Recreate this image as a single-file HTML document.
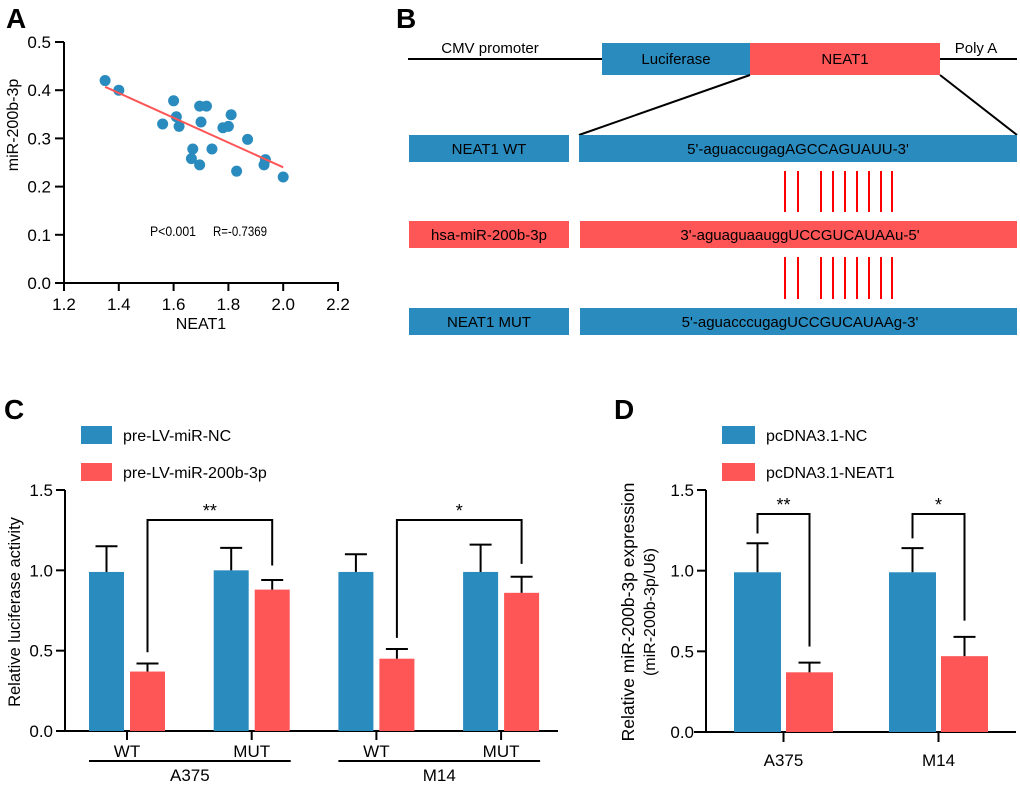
<!DOCTYPE html>
<html><head><meta charset="utf-8"><style>
html,body{margin:0;padding:0;background:#fff;}
svg{display:block;font-family:"Liberation Sans",sans-serif;}
</style></head><body>
<svg id="fig" width="1020" height="786" viewBox="0 0 1020 786" xmlns="http://www.w3.org/2000/svg">
<text x="6" y="28" font-size="28" font-weight="bold">A</text>
<text x="396" y="28" font-size="28" font-weight="bold">B</text>
<text x="4" y="419" font-size="28" font-weight="bold">C</text>
<text x="614" y="419" font-size="28" font-weight="bold">D</text>

<g id="panelB">
<line x1="408" y1="59" x2="1017" y2="59" stroke="#000" stroke-width="2"/>
<text x="490" y="53" font-size="15" text-anchor="middle">CMV promoter</text>
<text x="976" y="53" font-size="15" text-anchor="middle">Poly A</text>
<rect x="602" y="43" width="148" height="32" fill="#2a8bbf"/>
<text x="676" y="64" font-size="15" text-anchor="middle">Luciferase</text>
<rect x="750" y="43" width="190" height="32" fill="#fe5556"/>
<text x="845" y="64" font-size="15" text-anchor="middle">NEAT1</text>
<line x1="750" y1="75" x2="579" y2="135" stroke="#000" stroke-width="2"/>
<line x1="940" y1="75" x2="1017" y2="135" stroke="#000" stroke-width="2"/>
<rect x="409" y="135" width="160" height="27" fill="#2a8bbf"/>
<text x="489" y="154" font-size="15" text-anchor="middle">NEAT1 WT</text>
<rect x="579" y="135" width="438" height="27" fill="#2a8bbf"/>
<text x="798" y="154" font-size="15" text-anchor="middle">5'-aguaccugagAGCCAGUAUU-3'</text>
<rect x="409" y="221" width="160" height="27" fill="#fe5556"/>
<text x="489" y="240" font-size="15" text-anchor="middle">hsa-miR-200b-3p</text>
<rect x="580" y="221" width="437" height="27" fill="#fe5556"/>
<text x="800" y="240" font-size="15" text-anchor="middle">3'-aguaguaauggUCCGUCAUAAu-5'</text>
<rect x="409" y="308" width="160" height="27" fill="#2a8bbf"/>
<text x="489" y="327" font-size="15" text-anchor="middle">NEAT1 MUT</text>
<rect x="580" y="308" width="437" height="27" fill="#2a8bbf"/>
<text x="800" y="327" font-size="15" text-anchor="middle">5'-aguacccugagUCCGUCAUAAg-3'</text>
<g id="pairs" stroke="#f00" stroke-width="2"></g>
</g>

<g id="panelA"></g>
<g id="panelC"></g>
<g id="panelD"></g>
</svg>
<script>
const neat1Values = [1.35,1.40,1.60,1.61,1.56,1.62,1.695,1.72,1.70,1.81,1.78,1.80,1.87,1.67,1.74,1.665,1.695,1.83,1.93,1.935,2.00];
const mirValues   = [0.42,0.40,0.378,0.345,0.33,0.325,0.367,0.367,0.334,0.349,0.322,0.325,0.298,0.278,0.278,0.258,0.245,0.232,0.245,0.256,0.22];
const fitLineX = [1.35,2.00];
const fitLineY = [0.407,0.240];
const aXTicks = [1.2,1.4,1.6,1.8,2.0,2.2];
const aYTicks = [0.0,0.1,0.2,0.3,0.4,0.5];

const cCategories = ['WT','MUT','WT','MUT'];
const cGroups = ['A375','M14'];
const cNcMeans = [0.99,1.00,0.99,0.99];
const cNcErr   = [0.16,0.14,0.11,0.17];
const cMirMeans = [0.37,0.88,0.45,0.86];
const cMirErr   = [0.05,0.06,0.06,0.10];
const cTicks = [0.0,0.5,1.0,1.5];

const dCategories = ['A375','M14'];
const dNcMeans = [0.99,0.99];
const dNcErr = [0.18,0.15];
const dNeatMeans = [0.37,0.47];
const dNeatErr = [0.06,0.12];
const dTicks = [0.0,0.5,1.0,1.5];

const BLUE='#2a8bbf', RED='#fe5556';
const NS='http://www.w3.org/2000/svg';
function mk(parent, tag, attrs, text){
  const e=document.createElementNS(NS,tag);
  for(const k in attrs) e.setAttribute(k,attrs[k]);
  if(text!==undefined) e.textContent=text;
  parent.appendChild(e); return e;
}

const pairXs=[785,798,821,833,845,857,869,881,892];
const pg=document.getElementById('pairs');
[[171,212],[257,299]].forEach(r=>pairXs.forEach(x=>{
  const l=mk(pg,'line',{x1:x,y1:r[0],x2:x,y2:r[1]});
  
  
}));

(function(){
  const g=document.getElementById('panelA');
  const x0=64,x1=338,y0=283,y1=42;
  const sx=v=>x0+(v-1.2)/(2.2-1.2)*(x1-x0);
  const sy=v=>y0-(v-0)/(0.5)*(y0-y1);
  let e=mk(g,'line',{x1:x0,y1:y0,x2:x1+1,y2:y0,stroke:'#000','stroke-width':2});
   
  e=mk(g,'line',{x1:x0,y1:y0+1,x2:x0,y2:y1,stroke:'#000','stroke-width':2});
   
  aXTicks.forEach(t=>{
    mk(g,'line',{x1:sx(t),y1:y0,x2:sx(t),y2:y0+8,stroke:'#000','stroke-width':2});
    e=mk(g,'text',{x:sx(t),y:y0+27,'font-size':17,'text-anchor':'middle'},t.toFixed(1));
     
  });
  aYTicks.forEach(t=>{
    mk(g,'line',{x1:x0-9,y1:sy(t),x2:x0,y2:sy(t),stroke:'#000','stroke-width':2});
    e=mk(g,'text',{x:x0-13,y:sy(t)+6,'font-size':17,'text-anchor':'end'},t.toFixed(1));
     
  });
  e=mk(g,'text',{x:201,y:329,'font-size':16,'text-anchor':'middle'},'NEAT1');
   
  e=mk(g,'text',{x:18,y:125,'font-size':16,'text-anchor':'middle',transform:'rotate(-90 18 125)'},'miR-200b-3p');
   
  neat1Values.forEach((v,i)=>{
    e=mk(g,'circle',{cx:sx(v),cy:sy(mirValues[i]),r:5.5,fill:BLUE});
     
  });
  e=mk(g,'line',{x1:sx(fitLineX[0]),y1:sy(fitLineY[0]),x2:sx(fitLineX[1]),y2:sy(fitLineY[1]),stroke:RED,'stroke-width':2});
   
  e=mk(g,'text',{x:150,y:236,'font-size':14,textLength:46,lengthAdjust:'spacingAndGlyphs'},'P<0.001');
   
  e=mk(g,'text',{x:213,y:236,'font-size':14,textLength:54,lengthAdjust:'spacingAndGlyphs'},'R=-0.7369');
   
})();

function legend(g,x,y,labels,rw){
  [BLUE,RED].forEach((c,i)=>{
    let e=mk(g,'rect',{x:x,y:y+i*37,width:rw,height:18,fill:c});
     
    e=mk(g,'text',{x:x+rw+11,y:y+i*37+15,'font-size':16},labels[i]);
     
  });
}
function bar(g,x,w,sy,mean,err,color,name){
  let e=mk(g,'rect',{x:x,y:sy(mean),width:w,height:sy(0)-sy(mean),fill:color});
   
  const cx=x+w/2;
  mk(g,'line',{x1:cx,y1:sy(mean),x2:cx,y2:sy(mean+err),stroke:'#000','stroke-width':2});
  mk(g,'line',{x1:cx-11,y1:sy(mean+err),x2:cx+11,y2:sy(mean+err),stroke:'#000','stroke-width':2});
}
function bracket(g,xl,yl,xr,yr,ytop,label){
  mk(g,'polyline',{points:`${xl},${yl} ${xl},${ytop} ${xr},${ytop} ${xr},${yr}`,fill:'none',stroke:'#000','stroke-width':2});
  const e=mk(g,'text',{x:(xl+xr)/2,y:ytop-3,'font-size':18,'text-anchor':'middle'},label);
   
}

(function(){
  const g=document.getElementById('panelC');
  const y0=731,y1=490,ax=65;
  const sy=v=>y0-v/1.5*(y0-y1);
  legend(g,81,426,['pre-LV-miR-NC','pre-LV-miR-200b-3p'],31);
  let e=mk(g,'line',{x1:ax,y1:y0+1,x2:ax,y2:y1,stroke:'#000','stroke-width':2});
   
  e=mk(g,'line',{x1:56,y1:y0,x2:558,y2:y0,stroke:'#000','stroke-width':2});
   
  cTicks.forEach(t=>{
    mk(g,'line',{x1:ax-9,y1:sy(t),x2:ax,y2:sy(t),stroke:'#000','stroke-width':2});
    e=mk(g,'text',{x:ax-12,y:sy(t)+6,'font-size':17,'text-anchor':'end'},t.toFixed(1));
     
  });
  e=mk(g,'text',{x:20,y:612,'font-size':16.5,'text-anchor':'middle',transform:'rotate(-90 20 612)'},'Relative luciferase activity');
   
  const bw=35, start=89, step=124.7;
  cCategories.forEach((c,i)=>{
    const bx=start+i*step;
    bar(g,bx,bw,sy,cNcMeans[i],cNcErr[i],BLUE,'bar-nc');
    bar(g,bx+41,bw,sy,cMirMeans[i],cMirErr[i],RED,'bar-mir');
    const cx=bx+38;
    mk(g,'line',{x1:cx,y1:y0,x2:cx,y2:y0+9,stroke:'#000','stroke-width':2});
    e=mk(g,'text',{x:cx,y:y0+26,'font-size':17,'text-anchor':'middle'},c);
     
  });
  cGroups.forEach((gn,j)=>{
    const xa=start+2*j*step, xb=start+(2*j+1)*step+bw+41+1;
    mk(g,'line',{x1:xa,y1:761,x2:xb,y2:761,stroke:'#000','stroke-width':2});
    e=mk(g,'text',{x:(xa+xb)/2,y:781,'font-size':17,'text-anchor':'middle'},gn);
     
  });
  const m0=start+41+bw/2, m1=start+step+41+bw/2;
  bracket(g,m0,sy(cMirMeans[0]+cMirErr[0]+0.07),m1,sy(cMirMeans[1]+cMirErr[1]+0.09),520,'**');
  const m2=start+2*step+41+bw/2, m3=start+3*step+41+bw/2;
  bracket(g,m2,sy(cMirMeans[2]+cMirErr[2]+0.07),m3,sy(cMirMeans[3]+cMirErr[3]+0.08),520,'*');
})();

(function(){
  const g=document.getElementById('panelD');
  const y0=732,y1=490,ax=706;
  const sy=v=>y0-v/1.5*(y0-y1);
  legend(g,722,426,['pcDNA3.1-NC','pcDNA3.1-NEAT1'],33);
  let e=mk(g,'line',{x1:ax,y1:y0+1,x2:ax,y2:y1,stroke:'#000','stroke-width':2});
   
  e=mk(g,'line',{x1:694,y1:y0,x2:1016,y2:y0,stroke:'#000','stroke-width':2});
   
  dTicks.forEach(t=>{
    mk(g,'line',{x1:ax-9,y1:sy(t),x2:ax,y2:sy(t),stroke:'#000','stroke-width':2});
    e=mk(g,'text',{x:ax-12,y:sy(t)+6,'font-size':17,'text-anchor':'end'},t.toFixed(1));
     
  });
  e=mk(g,'text',{x:634,y:612,'font-size':17.5,'text-anchor':'middle',transform:'rotate(-90 634 612)'},'Relative miR-200b-3p expression');
   
  e=mk(g,'text',{x:655,y:612,'font-size':16,'text-anchor':'middle',transform:'rotate(-90 655 612)'},'(miR-200b-3p/U6)');
   
  const bw=47,start=734,step=155;
  dCategories.forEach((c,i)=>{
    const bx=start+i*step;
    bar(g,bx,bw,sy,dNcMeans[i],dNcErr[i],BLUE,'bar-nc');
    bar(g,bx+52,bw,sy,dNeatMeans[i],dNeatErr[i],RED,'bar-neat1');
    const cx=bx+49.5;
    mk(g,'line',{x1:cx,y1:y0,x2:cx,y2:y0+10,stroke:'#000','stroke-width':2});
    e=mk(g,'text',{x:cx,y:y0+34,'font-size':17,'text-anchor':'middle'},c);
     
    bracket(g,bx+bw/2,sy(dNcMeans[i]+dNcErr[i]+0.06),bx+52+bw/2,sy(dNeatMeans[i]+dNeatErr[i]+0.1),514,i===0?'**':'*');
  });
})();
</script>
</body></html>
